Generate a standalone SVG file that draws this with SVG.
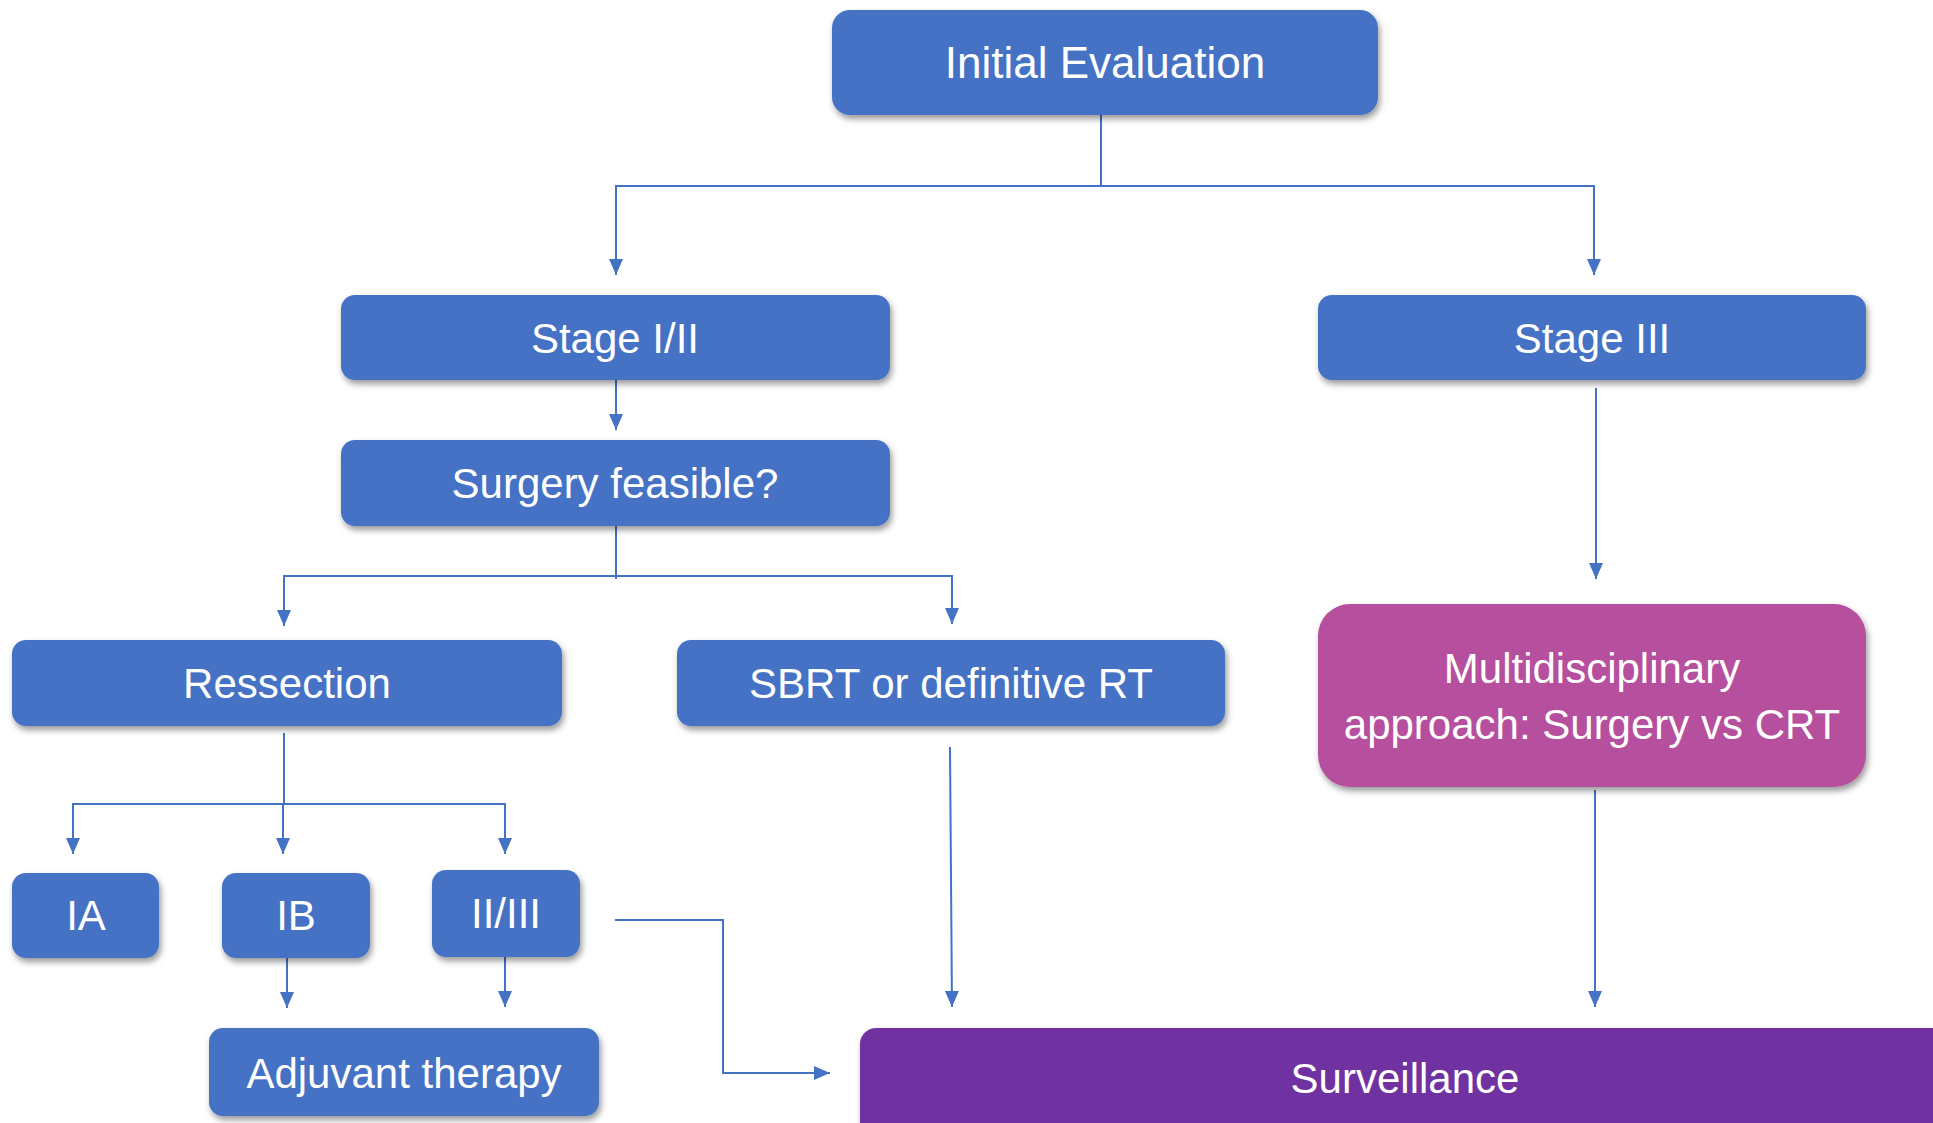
<svg xmlns="http://www.w3.org/2000/svg" width="1933" height="1123" viewBox="0 0 1933 1123">
<style>
.box{fill:#4472C4}
.mag{fill:#B64F9D}
.pur{fill:#7030A0}
.t{font-family:"Liberation Sans",Arial,sans-serif;font-size:42px;fill:#ffffff;text-anchor:middle}
.c{fill:none;stroke:#4472C4;stroke-width:2}
.a{marker-end:url(#arr)}
</style>
<defs>
<filter id="sh" x="-10%" y="-20%" width="120%" height="150%">
<feDropShadow dx="2" dy="4" stdDeviation="3" flood-color="#000" flood-opacity="0.4"/>
</filter>
<marker id="arr" viewBox="0 0 16 14" refX="16" refY="7" markerWidth="16" markerHeight="14" markerUnits="userSpaceOnUse" orient="auto">
<path d="M0,0 L16,7 L0,14 z" fill="#4472C4"/>
</marker>
</defs>
<rect width="1933" height="1123" fill="#ffffff"/>
<g id="connectors">
<path class="c a" d="M1101,115 V186 H616 V275"/>
<path class="c a" d="M1101,186 H1594 V275"/>
<path class="c a" d="M616,380 V430"/>
<path class="c" d="M616,526 V579"/>
<path class="c a" d="M616,576 H284 V626"/>
<path class="c a" d="M616,576 H952 V624"/>
<path class="c a" d="M1596,388 V579"/>
<path class="c" d="M284,733 V804"/>
<path class="c a" d="M284,804 H73 V854"/>
<path class="c a" d="M284,804 H505 V854"/>
<path class="c a" d="M283,804 V854"/>
<path class="c a" d="M287,958 V1008"/>
<path class="c a" d="M505,957 V1007"/>
<path class="c a" d="M615,920 H723 V1073 H830"/>
<path class="c a" d="M950,747 L952,1007"/>
<path class="c a" d="M1595,790 V1007"/>
</g>
<g id="initial-evaluation">
<rect class="box" x="832" y="10" width="546" height="105" rx="18" filter="url(#sh)"/>
<text class="t" x="1105" y="78" style="font-size:44px">Initial Evaluation</text>
</g>
<g id="stage-i-ii">
<rect class="box" x="341" y="295" width="549" height="85" rx="14" filter="url(#sh)"/>
<text class="t" x="615" y="353">Stage I/II</text>
</g>
<g id="stage-iii">
<rect class="box" x="1318" y="295" width="548" height="85" rx="14" filter="url(#sh)"/>
<text class="t" x="1592" y="353">Stage III</text>
</g>
<g id="surgery-feasible">
<rect class="box" x="341" y="440" width="549" height="86" rx="14" filter="url(#sh)"/>
<text class="t" x="615" y="498">Surgery feasible?</text>
</g>
<g id="ressection">
<rect class="box" x="12" y="640" width="550" height="86" rx="14" filter="url(#sh)"/>
<text class="t" x="287" y="698">Ressection</text>
</g>
<g id="sbrt">
<rect class="box" x="677" y="640" width="548" height="86" rx="14" filter="url(#sh)"/>
<text class="t" x="951" y="698">SBRT or definitive RT</text>
</g>
<g id="multidisciplinary">
<rect class="mag" x="1318" y="604" width="548" height="183" rx="32" filter="url(#sh)"/>
<text class="t" x="1592" y="683">Multidisciplinary</text>
<text class="t" x="1592" y="739">approach: Surgery vs CRT</text>
</g>
<g id="ia">
<rect class="box" x="12" y="873" width="147" height="85" rx="14" filter="url(#sh)"/>
<text class="t" x="86" y="930">IA</text>
</g>
<g id="ib">
<rect class="box" x="222" y="873" width="148" height="85" rx="14" filter="url(#sh)"/>
<text class="t" x="296" y="930">IB</text>
</g>
<g id="ii-iii">
<rect class="box" x="432" y="870" width="148" height="87" rx="14" filter="url(#sh)"/>
<text class="t" x="506" y="928">II/III</text>
</g>
<g id="adjuvant-therapy">
<rect class="box" x="209" y="1028" width="390" height="88" rx="14" filter="url(#sh)"/>
<text class="t" x="404" y="1088">Adjuvant therapy</text>
</g>
<g id="surveillance">
<rect class="pur" x="860" y="1028" width="1200" height="200" rx="16" filter="url(#sh)"/>
<text class="t" x="1405" y="1093">Surveillance</text>
</g>
</svg>
